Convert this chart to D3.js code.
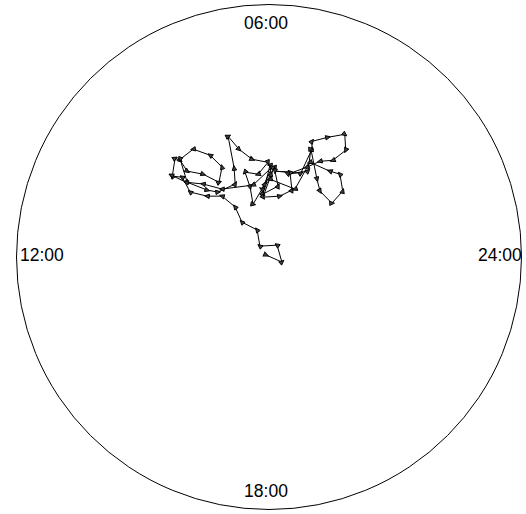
<!DOCTYPE html>
<html>
<head>
<meta charset="utf-8">
<script src="https://cdn.jsdelivr.net/npm/d3@7"></script>
<style>
  body { margin: 0; background: #fff; }
  text { font-family: "Liberation Sans", Arial, sans-serif; }
</style>
</head>
<body>
<div id="clock-vis"></div>
<script>
'use strict';

// positions of the walk, in units of the clock radius (x to the right, y up)
var walkX = [
  -0.012, 0.051, 0.032, -0.036, -0.047, -0.107, -0.134, -0.186, -0.245, -0.312,
  -0.344, -0.383, -0.372, -0.352, -0.324, -0.261, -0.198, -0.186, -0.233, -0.300,
  -0.352, -0.324, -0.245, -0.202, -0.134, -0.138, -0.162, -0.119, -0.067, -0.004,
  -0.043, -0.095, -0.075, -0.063, -0.016, 0.008, 0.004, -0.024, 0.036, 0.020,
  -0.024, 0.043, 0.091, 0.083, 0.024, 0.126, 0.170, 0.170, 0.233, 0.300,
  0.304, 0.253, 0.202, 0.150, 0.075, 0.154, 0.166, 0.190, 0.202, 0.249,
  0.292, 0.281, 0.241, 0.162, 0.103, 0.004, -0.028, 0.012, -0.063, -0.186,
  -0.261, -0.328, -0.387
];
var walkY = [
  0.008, -0.020, 0.047, 0.043, 0.107, 0.138, 0.198, 0.241, 0.241, 0.257,
  0.316, 0.320, 0.391, 0.383, 0.340, 0.328, 0.296, 0.356, 0.403, 0.427,
  0.387, 0.296, 0.265, 0.257, 0.289, 0.352, 0.478, 0.427, 0.387, 0.375,
  0.328, 0.336, 0.277, 0.209, 0.289, 0.328, 0.364, 0.249, 0.281, 0.356,
  0.237, 0.241, 0.265, 0.336, 0.340, 0.332, 0.427, 0.458, 0.474, 0.486,
  0.423, 0.383, 0.379, 0.356, 0.328, 0.340, 0.427, 0.308, 0.261, 0.213,
  0.261, 0.328, 0.340, 0.375, 0.269, 0.308, 0.269, 0.356, 0.285, 0.269,
  0.289, 0.296, 0.324
];

// hour labels around the dial
var hourLabels = ['06:00', '12:00', '18:00', '24:00'];

var width = 526;
var height = 514;
var cx = 269;
var cy = 257;
var radius = 252.5;

var svg = d3.select('#clock-vis')
    .append('svg')
    .attr('width', width)
    .attr('height', height);

var x = d3.scaleLinear().domain([-1, 1]).range([cx - radius, cx + radius]);
var y = d3.scaleLinear().domain([-1, 1]).range([cy + radius, cy - radius]);

// small triangle drawn at every step of the walk
svg.append('defs')
    .append('marker')
    .attr('id', 'step')
    .attr('viewBox', '-3 -3 6 6')
    .attr('markerWidth', 6)
    .attr('markerHeight', 6)
    .attr('markerUnits', 'userSpaceOnUse')
    .attr('refX', 0)
    .attr('refY', 0)
    .attr('orient', 'auto')
    .append('path')
    .attr('d', 'M-2.2,-2.2 L2.6,0 L-2.2,2.2 Z')
    .attr('fill', '#444')
    .attr('stroke', '#000')
    .attr('stroke-width', 0.9);

svg.append('circle')
    .attr('cx', x(0))
    .attr('cy', y(0))
    .attr('r', x(1) - x(0))
    .attr('fill', 'none')
    .attr('stroke', '#000')
    .attr('stroke-width', 1);

var points = walkX.map(function (d, i) { return [d, walkY[i]]; });

var line = d3.line()
    .x(function (d) { return x(d[0]); })
    .y(function (d) { return y(d[1]); });

svg.append('path')
    .datum(points)
    .attr('d', line)
    .attr('fill', 'none')
    .attr('stroke', '#000')
    .attr('stroke-width', 1)
    .attr('marker-start', 'url(#step)')
    .attr('marker-mid', 'url(#step)')
    .attr('marker-end', 'url(#step)');

// label positions (06 top, 12 left, 18 bottom, 24 right)
var labelPos = [
  { x: 266, y: 29, anchor: 'middle' },
  { x: 20, y: 261, anchor: 'start' },
  { x: 266, y: 497, anchor: 'middle' },
  { x: 478, y: 261, anchor: 'start' }
];

svg.selectAll('text.hour')
    .data(hourLabels)
    .enter()
    .append('text')
    .attr('class', 'hour')
    .attr('x', function (d, i) { return labelPos[i].x; })
    .attr('y', function (d, i) { return labelPos[i].y; })
    .attr('text-anchor', function (d, i) { return labelPos[i].anchor; })
    .attr('font-size', 17.5)
    .attr('fill', '#000')
    .text(function (d) { return d; });
</script>
</body>
</html>
